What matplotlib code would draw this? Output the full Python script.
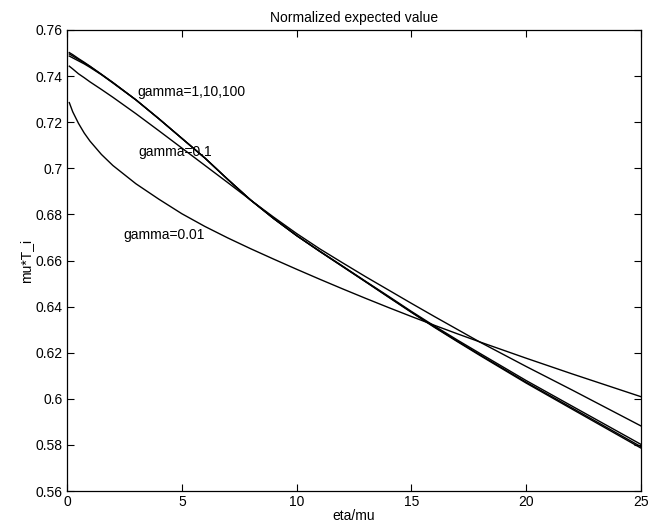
import matplotlib
matplotlib.use("Agg")
import matplotlib.pyplot as plt

# eta/mu sample points
eta_mu = [0.1, 0.25, 0.5, 0.75, 1, 1.5, 2, 3, 4, 5, 6, 7, 8, 9, 10, 11, 12,
          13, 14, 15, 16, 17, 18, 20, 22, 25]

# mu*T_i for each gamma
g001 = [0.7285, 0.7245, 0.7195, 0.7153, 0.7118, 0.7060, 0.7012, 0.6933,
        0.6866, 0.6803, 0.6748, 0.6698, 0.6651, 0.6606, 0.6562, 0.6519,
        0.6477, 0.6436, 0.6396, 0.6357, 0.6319, 0.6282, 0.6246, 0.6176,
        0.6108, 0.6009]
g01 = [0.7443, 0.7431, 0.7410, 0.7393, 0.7375, 0.7342, 0.7308, 0.7237,
       0.7163, 0.7088, 0.7013, 0.6938, 0.6862, 0.6788, 0.6717, 0.6651,
       0.6590, 0.6530, 0.6472, 0.6414, 0.6357, 0.6301, 0.6245, 0.6140,
       0.6038, 0.5882]
g1 = [0.7487, 0.7479, 0.7466, 0.7453, 0.7438, 0.7406, 0.7370, 0.7297,
      0.7215, 0.7130, 0.7045, 0.6952, 0.6862, 0.6782, 0.6708, 0.6641,
      0.6576, 0.6510, 0.6445, 0.6379, 0.6316, 0.6255, 0.6196, 0.6079,
      0.5968, 0.5802]
g10 = [0.7496, 0.7487, 0.7472, 0.7457, 0.7442, 0.7407, 0.7372, 0.7297,
       0.7215, 0.7130, 0.7045, 0.6952, 0.6862, 0.6782, 0.6708, 0.6640,
       0.6574, 0.6508, 0.6442, 0.6376, 0.6312, 0.6250, 0.6190, 0.6072,
       0.5960, 0.5792]
g100 = [0.7502, 0.7493, 0.7476, 0.7460, 0.7443, 0.7408, 0.7372, 0.7297,
        0.7215, 0.7130, 0.7045, 0.6952, 0.6862, 0.6782, 0.6708, 0.6640,
        0.6574, 0.6508, 0.6441, 0.6375, 0.6310, 0.6248, 0.6187, 0.6068,
        0.5955, 0.5786]

xticks = [0, 5, 10, 15, 20, 25]
yticks = [0.56, 0.58, 0.60, 0.62, 0.64, 0.66, 0.68, 0.70, 0.72, 0.74, 0.76]
ytick_labels = ["0.56", "0.58", "0.6", "0.62", "0.64", "0.66", "0.68",
                "0.7", "0.72", "0.74", "0.76"]

plt.rcParams["font.family"] = ["Liberation Sans", "DejaVu Sans"]
plt.rcParams["font.size"] = 10

fig = plt.figure(figsize=(6.66, 5.29), dpi=100)
ax = fig.add_axes([0.1006, 0.0718, 0.862, 0.8715])

for ys in (g001, g01, g1, g10, g100):
    ax.plot(eta_mu, ys, "-", color="black", lw=1.0)

ax.text(3.05, 0.7331, "gamma=1,10,100", ha="left", va="center")
ax.text(3.1, 0.7071, "gamma=0.1", ha="left", va="center")
ax.text(2.44, 0.6710, "gamma=0.01", ha="left", va="center")

ax.set_xlim(0, 25)
ax.set_ylim(0.56, 0.76)
ax.set_xticks(xticks)
ax.set_yticks(yticks)
ax.set_yticklabels(ytick_labels)
ax.tick_params(direction="in", length=5, width=0.8, top=True, right=True,
               labelsize=10, pad=3)
for s in ax.spines.values():
    s.set_linewidth(0.9)

ax.set_title("Normalized expected value", fontsize=10, pad=6)
ax.set_xlabel("eta/mu", labelpad=0)
ax.set_ylabel("mu*T_i", labelpad=2)

fig.savefig("out.png", dpi=100)
